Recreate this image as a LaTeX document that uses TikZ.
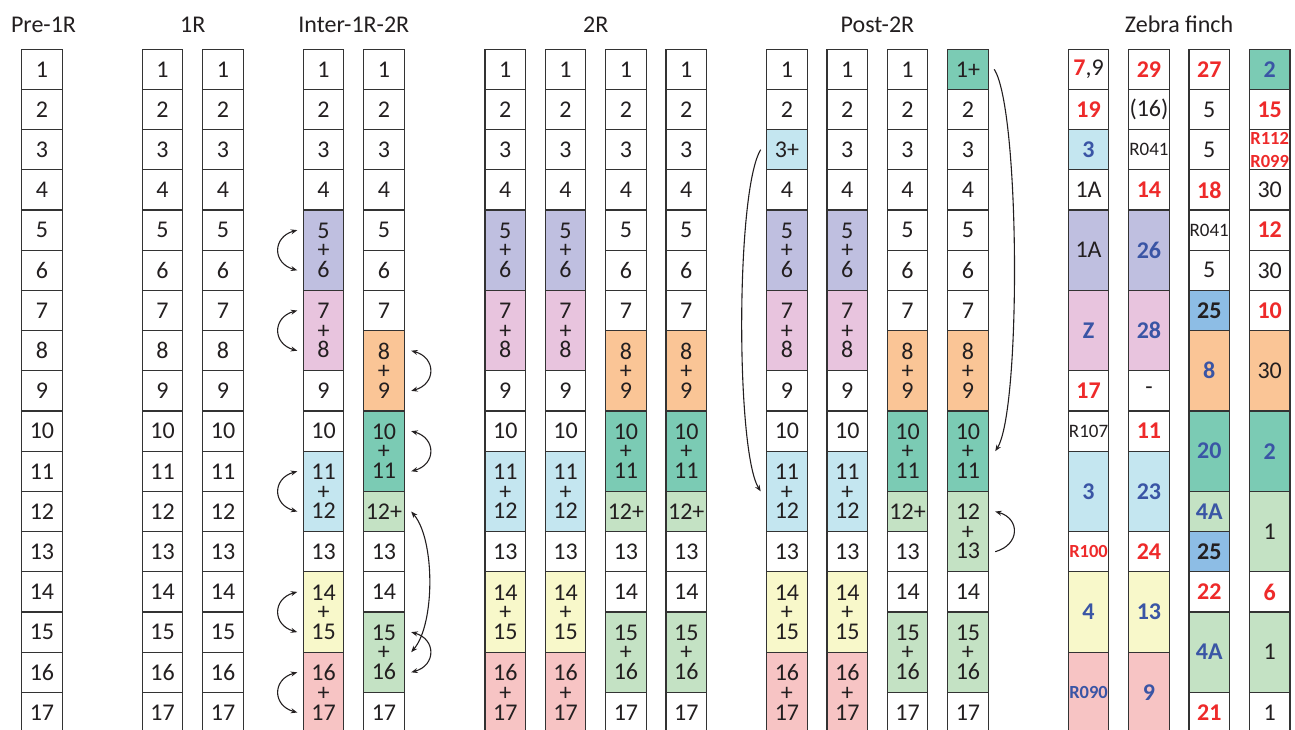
\documentclass[tikz,border=0pt]{standalone}
\usepackage{fontspec}
\setmainfont{Carlito}
\usetikzlibrary{arrows.meta}
\definecolor{lav}{HTML}{BFBFE0}
\definecolor{pinkc}{HTML}{E8C4DE}
\definecolor{orng}{HTML}{FAC596}
\definecolor{tealc}{HTML}{7BCBB4}
\definecolor{lblue}{HTML}{C4E6F0}
\definecolor{lgreen}{HTML}{C4E2C4}
\definecolor{yel}{HTML}{F8F8CA}
\definecolor{salmon}{HTML}{F7C4C4}
\definecolor{bluecell}{HTML}{8DBDE5}
\definecolor{redt}{HTML}{EE2A2A}
\definecolor{bluet}{HTML}{3A55A5}
\definecolor{txt}{HTML}{231F20}
\definecolor{bord}{HTML}{333333}
\newcommand\cellfont{\fontsize{24}{19.6}\selectfont}
\newcommand\smfont{\fontsize{19}{22}\selectfont}
\newcommand\smbfont{\fontsize{18.5}{23}\selectfont\bfseries}
\newcommand\Rd[1]{{\bfseries\color{redt}#1}}
\newcommand\Bl[1]{{\bfseries\color{bluet}#1}}
\newcommand\Kb[1]{{\bfseries #1}}
\tikzset{
  cellbox/.style={draw=bord, line width=1.2pt, inner sep=0pt, outer sep=0pt,
    minimum width=40.5pt, anchor=north west, align=center, font=\cellfont, text=txt},
  h1/.style={minimum height=40.2pt},
  h2/.style={minimum height=80.4pt},
  title/.style={font=\fontsize{24}{27}\selectfont, text=txt, anchor=base, inner sep=0pt},
  tip/.tip={Stealth[length=6.5pt,width=5pt]},
  arr/.style={line width=1.1pt, draw=txt, -tip},
  dbl/.style={line width=1.1pt, draw=txt, tip-tip}
}
% #1 options, #2 name, #3 x, #4 row, #5 span, #6 fill, #7 text
\newcommand\cc[7][]{\node[cellbox,h#5,fill=#6,#1] (#2) at (#3,{49.2+(#4-1)*40.2}) {#7};}
% plain column 1..17
\newcommand\plaincol[2]{\foreach \r in {1,...,17}{\cc{#1-\r}{#2}{\r}{1}{white}{\r}}}
% pattern A (5+6, 7+8, 11+12, 14+15, 16+17); #3 fill of row 3, #4 text of row 3
\newcommand\patA[4]{%
  \cc{#1-1}{#2}{1}{1}{white}{1}
  \cc{#1-2}{#2}{2}{1}{white}{2}
  \cc{#1-3}{#2}{3}{1}{#3}{#4}
  \cc{#1-4}{#2}{4}{1}{white}{4}
  \cc{#1-5}{#2}{5}{2}{lav}{5\\+\\6}
  \cc{#1-7}{#2}{7}{2}{pinkc}{7\\+\\8}
  \cc{#1-9}{#2}{9}{1}{white}{9}
  \cc{#1-10}{#2}{10}{1}{white}{10}
  \cc{#1-11}{#2}{11}{2}{lblue}{11\\+\\12}
  \cc{#1-13}{#2}{13}{1}{white}{13}
  \cc{#1-14}{#2}{14}{2}{yel}{14\\+\\15}
  \cc{#1-16}{#2}{16}{2}{salmon}{16\\+\\17}}
% pattern B (8+9, 10+11, 12+, 15+16)
\newcommand\patB[2]{%
  \foreach \r in {1,...,7}{\cc{#1-\r}{#2}{\r}{1}{white}{\r}}
  \cc{#1-8}{#2}{8}{2}{orng}{8\\+\\9}
  \cc{#1-10}{#2}{10}{2}{tealc}{10\\+\\11}
  \cc{#1-12}{#2}{12}{1}{lgreen}{12+}
  \cc{#1-13}{#2}{13}{1}{white}{13}
  \cc{#1-14}{#2}{14}{1}{white}{14}
  \cc{#1-15}{#2}{15}{2}{lgreen}{15\\+\\16}
  \cc{#1-17}{#2}{17}{1}{white}{17}}
\begin{document}
\begin{tikzpicture}[x=1pt,y=-1pt]
\useasboundingbox (0,0) rectangle (1295,730);
\clip (0,0) rectangle (1295,730);
% titles
\node[title] (t1) at (43.5,32.3) {Pre-1R};
\node[title] (t2) at (192.8,32.3) {1R};
\node[title] (t3) at (353.8,32.3) {Inter-1R-2R};
\node[title] (t4) at (595.8,32.3) {2R};
\node[title] (t5) at (877.5,32.3) {Post-2R};
\node[title] (t6) at (1179.1,32.3) {Zebra finch};
% Pre-1R and 1R
\plaincol{P}{21.7}
\plaincol{Ra}{142.3}
\plaincol{Rb}{202.8}
% Inter-1R-2R
\patA{Ia}{303.3}{white}{3}
\patB{Ib}{363.7}
% 2R
\patA{Ta}{485}{white}{3}
\patA{Tb}{545.3}{white}{3}
\patB{Tc}{605.7}
\patB{Td}{666}
% Post-2R
\patA{Qa}{766.7}{lblue}{3+}
\patA{Qb}{827}{white}{3}
\patB{Qc}{887.3}
\cc{Qd-1}{947.7}{1}{1}{tealc}{1+}
\foreach \r in {2,...,7}{\cc{Qd-\r}{947.7}{\r}{1}{white}{\r}}
\cc{Qd-8}{947.7}{8}{2}{orng}{8\\+\\9}
\cc{Qd-10}{947.7}{10}{2}{tealc}{10\\+\\11}
\cc{Qd-12}{947.7}{12}{2}{lgreen}{12\\+\\13}
\cc{Qd-14}{947.7}{14}{1}{white}{14}
\cc{Qd-15}{947.7}{15}{2}{lgreen}{15\\+\\16}
\cc{Qd-17}{947.7}{17}{1}{white}{17}
% Zebra finch col 1
\cc{Za-1}{1068.3}{1}{1}{white}{\Rd{7},9}
\cc{Za-2}{1068.3}{2}{1}{white}{\Rd{19}}
\cc{Za-3}{1068.3}{3}{1}{lblue}{\Bl{3}}
\cc{Za-4}{1068.3}{4}{1}{white}{1A}
\cc{Za-5}{1068.3}{5}{2}{lav}{1A}
\cc{Za-7}{1068.3}{7}{2}{pinkc}{\Bl{Z}}
\cc{Za-9}{1068.3}{9}{1}{white}{\Rd{17}}
\cc[font=\smfont]{Za-10}{1068.3}{10}{1}{white}{R107}
\cc{Za-11}{1068.3}{11}{2}{lblue}{\Bl{3}}
\cc[font=\smbfont,text=redt]{Za-13}{1068.3}{13}{1}{white}{R100}
\cc{Za-14}{1068.3}{14}{2}{yel}{\Bl{4}}
\cc[font=\smbfont,text=bluet]{Za-16}{1068.3}{16}{2}{salmon}{R090}
% Zebra finch col 2
\cc{Zb-1}{1128.7}{1}{1}{white}{\Rd{29}}
\cc{Zb-2}{1128.7}{2}{1}{white}{(16)}
\cc[font=\smfont]{Zb-3}{1128.7}{3}{1}{white}{R041}
\cc{Zb-4}{1128.7}{4}{1}{white}{\Rd{14}}
\cc{Zb-5}{1128.7}{5}{2}{lav}{\Bl{26}}
\cc{Zb-7}{1128.7}{7}{2}{pinkc}{\Bl{28}}
\cc{Zb-9}{1128.7}{9}{1}{white}{-}
\cc{Zb-10}{1128.7}{10}{1}{white}{\Rd{11}}
\cc{Zb-11}{1128.7}{11}{2}{lblue}{\Bl{23}}
\cc{Zb-13}{1128.7}{13}{1}{white}{\Rd{24}}
\cc{Zb-14}{1128.7}{14}{2}{yel}{\Bl{13}}
\cc{Zb-16}{1128.7}{16}{2}{salmon}{\Bl{9}}
% Zebra finch col 3
\cc{Zc-1}{1189}{1}{1}{white}{\Rd{27}}
\cc{Zc-2}{1189}{2}{1}{white}{5}
\cc{Zc-3}{1189}{3}{1}{white}{5}
\cc{Zc-4}{1189}{4}{1}{white}{\Rd{18}}
\cc[font=\smfont]{Zc-5}{1189}{5}{1}{white}{R041}
\cc{Zc-6}{1189}{6}{1}{white}{5}
\cc{Zc-7}{1189}{7}{1}{bluecell}{\Kb{25}}
\cc{Zc-8}{1189}{8}{2}{orng}{\Bl{8}}
\cc{Zc-10}{1189}{10}{2}{tealc}{\Bl{20}}
\cc{Zc-12}{1189}{12}{1}{lgreen}{\Bl{4A}}
\cc{Zc-13}{1189}{13}{1}{bluecell}{\Kb{25}}
\cc{Zc-14}{1189}{14}{1}{white}{\Rd{22}}
\cc{Zc-15}{1189}{15}{2}{lgreen}{\Bl{4A}}
\cc{Zc-17}{1189}{17}{1}{white}{\Rd{21}}
% Zebra finch col 4
\cc{Zd-1}{1249.4}{1}{1}{tealc}{\Bl{2}}
\cc{Zd-2}{1249.4}{2}{1}{white}{\Rd{15}}
\cc[font=\smbfont,text=redt]{Zd-3}{1249.4}{3}{1}{white}{R112\\R099}
\cc{Zd-4}{1249.4}{4}{1}{white}{30}
\cc{Zd-5}{1249.4}{5}{1}{white}{\Rd{12}}
\cc{Zd-6}{1249.4}{6}{1}{white}{30}
\cc{Zd-7}{1249.4}{7}{1}{white}{\Rd{10}}
\cc{Zd-8}{1249.4}{8}{2}{orng}{30}
\cc{Zd-10}{1249.4}{10}{2}{tealc}{\Bl{2}}
\cc{Zd-12}{1249.4}{12}{2}{lgreen}{1}
\cc{Zd-14}{1249.4}{14}{1}{white}{\Rd{6}}
\cc{Zd-15}{1249.4}{15}{2}{lgreen}{1}
\cc{Zd-17}{1249.4}{17}{1}{white}{1}
% arrows Inter-1R-2R, left side
\foreach \n in {5,7,11,14,16}{
  \draw[dbl] ([xshift=-6pt,yshift=20.1pt]Ia-\n.west) .. controls +(-25,7) and +(-25,-7) .. ([xshift=-6pt,yshift=-20.1pt]Ia-\n.west);
}
% arrows Inter-1R-2R, right side
\foreach \n in {8,10,15}{
  \draw[dbl] ([xshift=7pt,yshift=20.1pt]Ib-\n.east) .. controls +(25,7) and +(25,-7) .. ([xshift=7pt,yshift=-20.1pt]Ib-\n.east);
}
\draw[dbl] ([xshift=7pt]Ib-12.east) .. controls +(24,28) and +(24,-28) .. ([xshift=7pt]Ib-15.east);
% arrows Post-2R
\draw[arr] ([xshift=-6pt]Qa-3.west) .. controls +(-25,40) and +(-25,-40) .. ([xshift=-6pt]Qa-11.west);
\draw[arr] ([xshift=6pt]Qd-1.east) .. controls +(26,40) and +(26,-40) .. ([xshift=7pt]Qd-10.east);
\draw[arr] ([xshift=7pt,yshift=-20.1pt]Qd-12.east) .. controls +(25,-7) and +(25,7) .. ([xshift=7pt,yshift=20.1pt]Qd-12.east);
\end{tikzpicture}
\end{document}
